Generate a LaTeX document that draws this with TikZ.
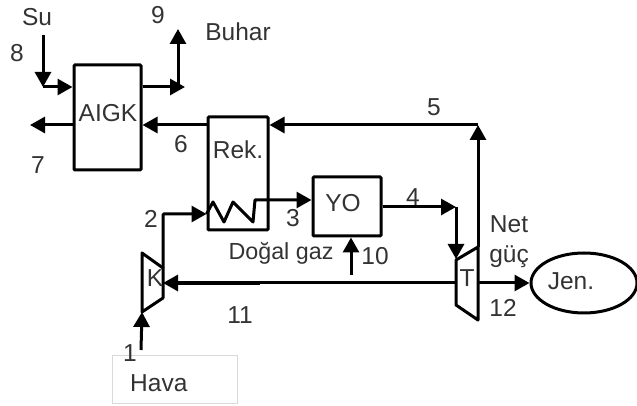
\documentclass[tikz,border=0pt]{standalone}
\usepackage{fontspec}
\setmainfont{Liberation Sans}
\usetikzlibrary{arrows.meta,shapes.geometric}
\tikzset{
    unit/.style={draw,line width=3pt,rounded corners=1pt,inner sep=0pt},
    lbl/.style={inner sep=0pt,text=black!80,font=\fontsize{24.5}{28}\selectfont},
    flow/.style={line width=3pt,-{Triangle[length=15pt,width=16pt]}},
    line/.style={line width=3pt},
}
\begin{document}
\begin{tikzpicture}[x=1pt,y=1pt]
    \useasboundingbox (0,0) rectangle (637,406);
    % units
    \node[unit,minimum width=67pt,minimum height=105pt] (aigk) at (107.5,288.5) {};
    \node[unit,minimum width=60pt,minimum height=113pt] (rek) at (238,232.5) {};
    \node[unit,minimum width=68pt,minimum height=59pt] (yo) at (347,199.5) {};
    \node[unit,ellipse,minimum width=106pt,minimum height=60pt] (jen) at (584,123) {};
    \node[draw=black!15,line width=1pt,minimum width=125pt,minimum height=48pt,inner sep=0pt] (hava) at (174.5,26) {};
    % turbine and compressor
    \draw[line,line join=round] (142,153) coordinate (kTL) -- (163,138) coordinate (kTR) -- (163,108) coordinate (kBR) -- (142,94) coordinate (kBL) -- cycle;
    \draw[line,line join=round] (456,146) coordinate (tTL) -- (478,159) coordinate (tTR) -- (478,86) coordinate (tBR) -- (456,101) coordinate (tBL) -- cycle;
    % free ends
    \coordinate (suIn) at (43,371);
    \coordinate (suBend) at (43,319);
    \coordinate (steamBend) at (178,319);
    \coordinate (steamOut) at (178,377);
    \coordinate (exhaust) at (30,281);
    \coordinate (topBend) at (478,281);
    \coordinate (gasBend) at (456,199);
    \coordinate (gasIn) at (456,147);
    \coordinate (airBend) at (163,192);
    \coordinate (coilEnd) at (255,206);
    \coordinate (fuelIn) at (351,131);
    \coordinate (airIn) at (141,56);
    % connectors
    \draw[flow] (suIn) -- (suBend);
    \draw[flow] (suBend) -- (aigk.west |- suBend);
    \draw[flow] (aigk.east |- suBend) -- (steamBend) -- ++(7,0);
    \draw[flow] (steamBend) -- (steamOut);
    \draw[flow] (aigk.west |- exhaust) -- (exhaust);
    \draw[flow] (rek.west |- exhaust) -- (aigk.east |- exhaust);
    \draw[flow] (topBend) -- (rek.east |- topBend);
    \draw[flow] (tTR) -- (topBend);
    \draw[flow] (yo.east |- gasBend) -- (gasBend);
    \draw[flow] (gasBend) -- (gasIn);
    \draw[flow,rounded corners=1pt] (kTR) -- (airBend) -- (rek.west |- airBend);
    \draw[flow,line join=round] (rek.west |- airBend) -- (213,204) -- (224,184) -- (233,204) -- (253,184) -- (coilEnd) -- (yo.west |- coilEnd);
    \draw[flow] (fuelIn) -- (yo.south -| fuelIn);
    \draw[flow] (airIn) -- (kBL);
    \draw[flow] (tTL |- jen) -- (kBR |- jen);
    \draw[line,line width=3.8pt] (176,123) -- (260,123);
    \draw[flow] (tBR |- jen) -- (jen.west);
    % labels
    \node[lbl] (lSu) at (37,389) {Su};
    \node[lbl] (l8) at (17,353) {8};
    \node[lbl] (l9) at (158,391) {9};
    \node[lbl] (lBuhar) at (238,374) {Buhar};
    \node[lbl] (lAigk) at (108,293) {AIGK};
    \node[lbl] (l6) at (181,262) {6};
    \node[lbl] (l7) at (38,241) {7};
    \node[lbl] (lRek) at (238,256) {Rek.};
    \node[lbl] (l5) at (434,299) {5};
    \node[lbl] (l4) at (413,209) {4};
    \node[lbl] (l3) at (293,188) {3};
    \node[lbl] (l2) at (151,187) {2};
    \node[lbl] (lYo) at (343,203) {YO};
    \node[lbl,font=\fontsize{23.3}{28}\selectfont] (lGaz) at (281,153) {Doğal gaz};
    \node[lbl] (l10) at (375,150) {10};
    \node[lbl] (l11) at (240,91) {11};
    \node[lbl] (lK) at (155,128) {K};
    \node[lbl] (lT) at (467,128) {T};
    \node[lbl] (lNet) at (509,182) {Net};
    \node[lbl] (lGuc) at (509,149) {güç};
    \node[lbl] (l12) at (503,98) {12};
    \node[lbl] (lJen) at (571,125) {Jen.};
    \node[lbl] (l1) at (130,53) {1};
    \node[lbl,anchor=west] (lHava) at (130,23) {Hava};
\end{tikzpicture}
\end{document}
